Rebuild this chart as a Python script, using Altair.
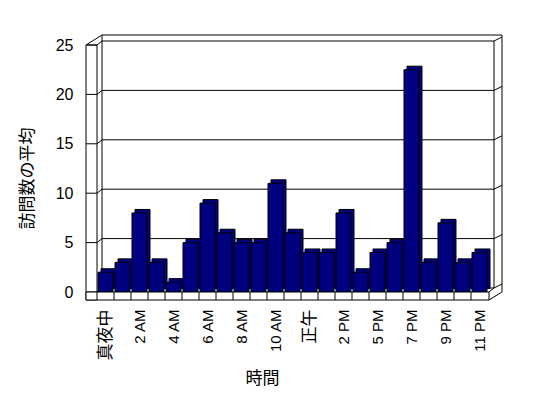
import altair as alt
import pandas as pd

# ---- data ----
hours = ["真夜中", "1 AM", "2 AM", "3 AM", "4 AM", "5 AM", "6 AM", "7 AM", "8 AM",
         "9 AM", "10 AM", "11 AM", "正午", "1 PM", "2 PM", "4 PM", "5 PM", "6 PM",
         "7 PM", "8 PM", "9 PM", "10 PM", "11 PM"]
visits = [2, 3, 8, 3, 1, 5, 9, 6, 5, 5, 11, 6, 4, 4, 8, 2, 4, 5, 22.5, 3, 7, 3, 4]
shown_labels = ["真夜中", "2 AM", "4 AM", "6 AM", "8 AM", "10 AM", "正午", "2 PM",
                "5 PM", "7 PM", "9 PM", "11 PM"]
y_ticks = [0, 5, 10, 15, 20, 25]

W, H = 391, 247
PX = 25 / H  # data units per pixel

df = pd.DataFrame({"hour": hours, "visits": visits})
grid = pd.DataFrame({"v": y_ticks})
one = pd.DataFrame({"d": [0]})

NAVY = "#000080"
LAT = "Liberation Sans, Noto Sans CJK JP"
CJK = "Noto Sans CJK JP"

yscale = alt.Scale(domain=[0, 25], nice=False, zero=True)
xscale = alt.Scale(domain=hours, paddingInner=0, paddingOuter=0)

AX_X = alt.Axis(values=shown_labels, labelAngle=-90, domain=False, ticks=False,
                labelPadding=17, labelFont=LAT, labelColor="black",
                labelFontSize={"condition": {"test": "datum.value == '真夜中' || datum.value == '正午'",
                                             "value": 17}, "value": 15},
                title="時間", titleFont=CJK, titleFontSize=17,
                titleFontWeight="normal", titleColor="black",
                titleX=165, titleY=86, titleAlign="center", titleBaseline="middle")
AX_Y = alt.Axis(values=y_ticks, grid=False, domain=False, ticks=False,
                labelPadding=24, labelFont=LAT, labelFontSize=16, labelColor="black",
                title="訪問数の平均", titleFont=CJK, titleFontSize=17,
                titleFontWeight="normal", titleColor="black",
                titleX=-70, titleY=133, titleAngle=270,
                titleAlign="center", titleBaseline="middle")


def ye(field):
    return alt.Y(field, scale=yscale, axis=AX_Y, title="訪問数の平均")


def xe(field="hour:N", **kw):
    return alt.X(field, sort=hours, scale=xscale, axis=AX_X, title="時間", **kw)


# ---- walls and gridlines ----
g = alt.Chart(grid).transform_calculate(
    vb=f"datum.v + {4 * PX}", vr=f"datum.v + {8 * PX}"
)
back_lines = g.mark_rule(color="black").encode(
    x=alt.value(5), x2=alt.value(397), y=ye("vb:Q"))
left_diag = g.mark_rule(color="black").encode(
    x=alt.value(0), x2=alt.value(5), y=ye("v:Q"), y2="vb:Q")
right_diag = g.mark_rule(color="black").encode(
    x=alt.value(397), x2=alt.value(405), y=ye("vb:Q"), y2="vr:Q")
front_seg = g.mark_rule(color="black").encode(
    x=alt.value(-11), x2=alt.value(0), y=ye("v:Q"))

base1 = alt.Chart(one)
frame = [
    base1.mark_rule(color="black").encode(x=alt.value(5), x2=alt.value(405),
                                          y=alt.value(-10), y2=alt.value(-10)),
    base1.mark_rule(color="black").encode(x=alt.value(-11), x2=alt.value(5),
                                          y=alt.value(0), y2=alt.value(-10)),
    base1.mark_rule(color="black").encode(x=alt.value(5), x2=alt.value(5),
                                          y=alt.value(-10), y2=alt.value(243)),
    base1.mark_rule(color="black").encode(x=alt.value(397), x2=alt.value(397),
                                          y=alt.value(-4), y2=alt.value(243)),
    base1.mark_rule(color="black").encode(x=alt.value(405), x2=alt.value(405),
                                          y=alt.value(-10), y2=alt.value(247)),
]
left_wall = base1.mark_rect(fill="white", stroke="black", strokeWidth=1).encode(
    x=alt.value(-11), x2=alt.value(0), y=alt.value(0), y2=alt.value(255))

# ---- bars (3D look: offset back box + front face) ----
bar_back = alt.Chart(df).mark_bar(size=15, xOffset=3, yOffset=-3.5, fill=NAVY,
                                  stroke="black", strokeWidth=1).encode(
    x=xe(), y=ye("visits:Q"))
bar_front = alt.Chart(df).mark_bar(size=15, fill=NAVY, stroke="black",
                                   strokeWidth=1).encode(
    x=xe(), y=ye("visits:Q"))

# ---- floor slab ----
floor = base1.mark_rect(fill="white", stroke="black", strokeWidth=1).encode(
    x=alt.value(-11), x2=alt.value(392), y=alt.value(247), y2=alt.value(255))
floor_sep = alt.Chart(df).mark_rule(color="black").encode(
    x=xe(bandPosition=0), y=alt.value(247), y2=alt.value(255))
floor_right = [
    base1.mark_rule(color="black").encode(x=alt.value(392), x2=alt.value(405),
                                          y=alt.value(255), y2=alt.value(247)),
    base1.mark_rule(color="black").encode(x=alt.value(392), x2=alt.value(397),
                                          y=alt.value(247), y2=alt.value(243)),
]

chart = alt.layer(
    back_lines, right_diag, *frame, left_wall, front_seg, left_diag,
    bar_back, bar_front, floor, floor_sep, *floor_right
).properties(
    width=W, height=H,
    autosize=alt.AutoSizeParams(type="none"),
    padding={"left": 97, "top": 45, "right": 60, "bottom": 106},
    background="white",
).configure_view(stroke=None)

chart.save("out.html", embed_options={"renderer": "svg", "actions": False})
